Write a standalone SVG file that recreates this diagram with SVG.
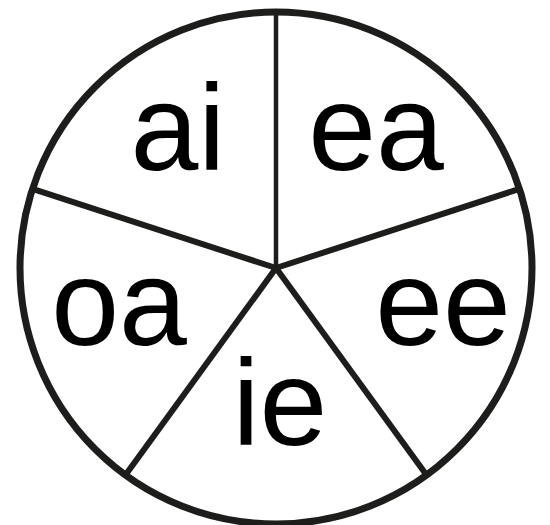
<svg xmlns="http://www.w3.org/2000/svg" width="550" height="525" viewBox="0 0 550 525">
  <style>
    .rim { fill: #ffffff; stroke: #1d1d1b; stroke-width: 7; }
    .spoke { stroke: #1d1d1b; stroke-width: 6; stroke-linecap: butt; fill: none; }
    .thin { stroke-width: 4.5; }
    .lbl { font-family: "Liberation Sans", "Noto Sans", sans-serif; font-size: 122px; fill: #000000; text-anchor: middle; }
  </style>
  <rect width="550" height="525" fill="#ffffff"/>
  <g id="wheel">
    <circle class="rim" cx="276" cy="268" r="256"/>
  </g>
  <g id="connectors">
    <line class="spoke thin" x1="276" y1="268" x2="276" y2="12"/>
    <line class="spoke" x1="276" y1="268" x2="519.5" y2="188.9"/>
    <line class="spoke" x1="276" y1="268" x2="426.5" y2="475.1"/>
    <line class="spoke" x1="276" y1="268" x2="125.5" y2="475.1"/>
    <line class="spoke" x1="276" y1="268" x2="32.5" y2="188.9"/>
  </g>
  <g id="sector-ai"><text class="lbl" x="178" y="170">ai</text></g>
  <g id="sector-ea"><text class="lbl" x="376" y="170">ea</text></g>
  <g id="sector-ee"><text class="lbl" x="443" y="345">ee</text></g>
  <g id="sector-ie"><text class="lbl" x="280" y="445">ie</text></g>
  <g id="sector-oa"><text class="lbl" x="119" y="345">oa</text></g>
</svg>
